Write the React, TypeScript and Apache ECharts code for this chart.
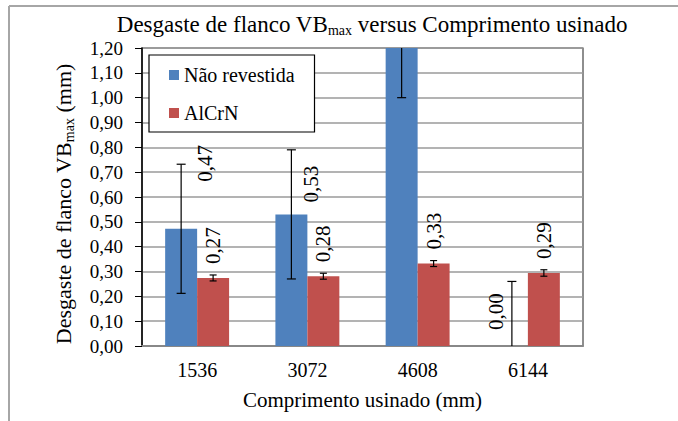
import React, { useEffect, useRef } from "react";
import * as echarts from "echarts";

const categories = ["1536", "3072", "4608", "6144"];
const naoRevestida = [0.472, 0.53, 1.5, 0];
const naoRevestidaErr = [0.26, 0.26, 0.5, 0.26];
const alcrn = [0.274, 0.281, 0.332, 0.294];
const alcrnErr = [0.012, 0.012, 0.012, 0.013];
const yTicks = { min: 0, max: 1.2, interval: 0.1 };

// label nudges (style only; in the rotated label frame)
const blueLabelNudge = [[33, 24], [-2, 20], [0, 0], [2, -16]];

const FONT = "Liberation Serif";
const BLUE = "#4F81BD";
const RED = "#C0504D";
const CAT_GAP = 0.42;

const fmt = (v: number) => v.toFixed(2).replace(".", ",");
const rt = (size: number) => ({ fontFamily: FONT, fontSize: size, color: "#000" });

function errorSeries(name: string, values: number[], errs: number[], side: number, cap: number) {
  return {
    type: "custom",
    name: name + "-err",
    clip: true,
    silent: true,
    z: 5,
    data: values.map((v, i) => [i, v, errs[i]]),
    renderItem: (params: any, api: any) => {
      const i = api.value(0);
      const v = api.value(1);
      const e = api.value(2);
      const catW = api.size([1, 0])[0];
      const bw = (catW * (1 - CAT_GAP)) / 2;
      const c = api.coord([i, v]);
      const x = c[0] + (side * bw) / 2;
      const lo = api.coord([i, v - e])[1];
      const hi = api.coord([i, v + e])[1];
      const style = { stroke: "#000", lineWidth: 1.2 };
      return {
        type: "group",
        children: [
          { type: "line", shape: { x1: x, y1: lo, x2: x, y2: hi }, style },
          { type: "line", shape: { x1: x - cap / 2, y1: lo, x2: x + cap / 2, y2: lo }, style },
          { type: "line", shape: { x1: x - cap / 2, y1: hi, x2: x + cap / 2, y2: hi }, style },
        ],
      };
    },
  };
}

export default function App() {
  const ref = useRef<HTMLDivElement>(null);
  useEffect(() => {
    if (!ref.current) return;
    const chart = echarts.init(ref.current, null, { renderer: "svg" });
    const labelBase = {
      show: true,
      position: "top",
      distance: 14,
      rotate: 90,
      align: "left",
      verticalAlign: "middle",
      fontFamily: FONT,
      fontSize: 21,
      color: "#000",
      rich: { a: rt(21) },
      formatter: (p: any) => "{a|" + fmt(p.value) + "}",
    };
    chart.setOption({
      animation: false,
      backgroundColor: "#fff",
      textStyle: { fontFamily: FONT, color: "#000" },
      title: {
        text: "{a|Desgaste de flanco VB}{sub|max}{a| versus Comprimento usinado}",
        left: 367,
        top: 7,
        textAlign: "center",
        textStyle: {
          fontFamily: FONT,
          fontSize: 23,
          fontWeight: "normal",
          color: "#000",
          rich: {
            a: rt(23),
            sub: { ...rt(14), padding: [11, 0, 0, 0] },
          },
        },
      },
      legend: {
        orient: "vertical",
        left: 149,
        top: 55,
        icon: "rect",
        itemWidth: 10,
        itemHeight: 10,
        itemGap: 18,
        padding: [10, 20, 9, 20],
        borderColor: "#000",
        borderWidth: 1.2,
        backgroundColor: "#fff",
        formatter: (n: string) => "{a|" + n + "}",
        textStyle: { fontFamily: FONT, fontSize: 20, color: "#000", rich: { a: rt(20) } },
        data: ["Não revestida", "AlCrN"],
        z: 10,
      },
      grid: {
        left: 142,
        top: 48,
        right: 95,
        bottom: 75,
        show: true,
        borderColor: "#444",
        borderWidth: 1.2,
      },
      xAxis: {
        type: "category",
        data: categories,
        axisTick: { show: false },
        axisLine: { lineStyle: { color: "#888", width: 2 } },
        axisLabel: {
          fontFamily: FONT,
          fontSize: 20,
          color: "#000",
          margin: 14,
          formatter: (v: string) => "{a|" + v + "}",
          rich: { a: rt(20) },
        },
        name: "{a|Comprimento usinado (mm)}",
        nameLocation: "middle",
        nameGap: 43,
        nameTextStyle: { fontFamily: FONT, fontSize: 21, color: "#000", rich: { a: rt(21) } },
      },
      yAxis: {
        type: "value",
        min: yTicks.min,
        max: yTicks.max,
        interval: yTicks.interval,
        axisLine: { show: true, lineStyle: { color: "#000", width: 1.5 } },
        axisTick: { show: true, length: 7, lineStyle: { color: "#000" } },
        splitLine: { lineStyle: { color: "#9a9a9a", width: 1.5 } },
        axisLabel: {
          fontFamily: FONT,
          fontSize: 19,
          color: "#000",
          margin: 19,
          formatter: (v: number) => "{a|" + fmt(v) + "}",
          rich: { a: rt(19) },
        },
        name: "{a|Desgaste de flanco VB}{sub|max}{a| (mm)}",
        nameLocation: "middle",
        nameGap: 66,
        nameRotate: 90,
        nameTextStyle: {
          fontFamily: FONT,
          fontSize: 22,
          color: "#000",
          padding: [0, 14, 0, 0],
          rich: { a: rt(22), sub: { ...rt(14), padding: [11, 0, 0, 0] } },
        },
      },
      graphic: [
        { type: "line", shape: { x1: 9, y1: 6, x2: 678, y2: 6 }, style: { stroke: "#a6a6a6", lineWidth: 2 }, silent: true },
        { type: "line", shape: { x1: 9, y1: 6, x2: 9, y2: 421 }, style: { stroke: "#a6a6a6", lineWidth: 2 }, silent: true },
      ],
      series: [
        {
          type: "bar",
          name: "Não revestida",
          barGap: "0%",
          barCategoryGap: CAT_GAP * 100 + "%",
          itemStyle: { color: BLUE },
          clip: true,
          data: naoRevestida.map((v, i) => ({
            value: v,
            label: {
              ...labelBase,
              show: v <= yTicks.max,
              offset: blueLabelNudge[i],
            },
          })),
        },
        {
          type: "bar",
          name: "AlCrN",
          barGap: "0%",
          barCategoryGap: CAT_GAP * 100 + "%",
          itemStyle: { color: RED },
          clip: true,
          label: labelBase,
          data: alcrn,
        },
        errorSeries("Não revestida", naoRevestida, naoRevestidaErr, -1, 9),
        errorSeries("AlCrN", alcrn, alcrnErr, 1, 7),
      ],
    });
    return () => chart.dispose();
  }, []);
  return <div ref={ref} style={{ position: "fixed", left: 0, top: 0, width: 678, height: 421 }} />;
}
